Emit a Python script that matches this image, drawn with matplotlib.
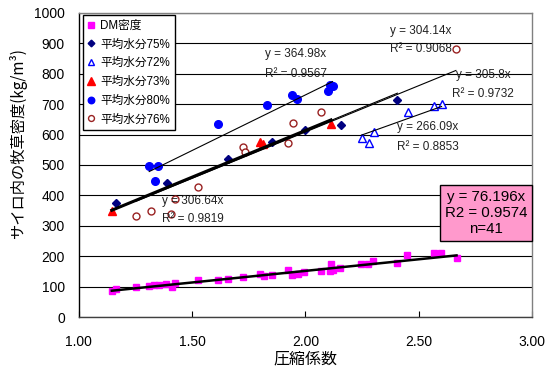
import numpy as np
import matplotlib
matplotlib.use("Agg")
import matplotlib.pyplot as plt

plt.rcParams['font.family'] = ['Liberation Sans', 'Noto Sans CJK JP', 'DejaVu Sans']

# ---- data ----
dm_x = [1.146, 1.165, 1.253, 1.311, 1.332, 1.353, 1.385, 1.410, 1.425, 1.526, 1.616,
        1.657, 1.726, 1.800, 1.819, 1.853, 1.922, 1.942, 1.966, 1.995, 2.067, 2.109,
        2.113, 2.120, 2.153, 2.245, 2.277, 2.300, 2.403, 2.450, 2.567, 2.597, 2.667]
dm_y = [87, 93, 99, 103, 105, 105, 108, 100, 112, 122, 121,
        126, 131, 141, 136, 139, 154, 140, 142, 149, 153, 153,
        174, 154, 161, 175, 175, 186, 177, 205, 210, 210, 195]

m75_x = [1.165, 1.388, 1.657, 1.851, 1.998, 2.156, 2.406]
m75_y = [374, 440, 520, 575, 614, 630, 713]

m72_x = [2.248, 2.281, 2.303, 2.451, 2.569, 2.601]
m72_y = [588, 573, 607, 673, 695, 699]

m73_x = [1.146, 1.800, 1.812, 2.113]
m73_y = [349, 574, 570, 634]

m80_x = [1.311, 1.348, 1.337, 1.616, 1.829, 1.942, 1.964, 2.098, 2.109, 2.120]
m80_y = [497, 497, 448, 633, 698, 729, 718, 744, 762, 760]

m76_x = [1.251, 1.318, 1.406, 1.425, 1.525, 1.726, 1.734, 1.922, 1.947, 2.067, 2.664]
m76_y = [333, 348, 339, 388, 427, 560, 544, 571, 639, 673, 881]

slopes = {'dm': 76.196, 'm75': 305.8, 'm72': 266.09, 'm73': 306.64, 'm80': 364.98, 'm76': 304.14}
r2 = {'m75': '0.9732', 'm72': '0.8853', 'm73': '0.9819', 'm80': '0.9567', 'm76': '0.9068'}

labels = ['DM密度', '平均水分75%', '平均水分72%', '平均水分73%', '平均水分80%', '平均水分76%']
xticks = [1.00, 1.50, 2.00, 2.50, 3.00]
yticks = [0, 100, 200, 300, 400, 500, 600, 700, 800, 900, 1000]

# ---- figure ----
fig = plt.figure(figsize=(5.47, 3.73), dpi=100)
ax = fig.add_axes([0.1439, 0.1493, 0.8287, 0.8167])

ax.plot(dm_x, dm_y, 's', color='#FF00FF', ms=5, label=labels[0], zorder=3)
ax.plot(m75_x, m75_y, 'D', color='#000080', ms=4, label=labels[1], zorder=3)
ax.plot(m72_x, m72_y, '^', mfc='white', mec='#0000FF', mew=1.0, ms=5.5, label=labels[2], zorder=3)
ax.plot(m73_x, m73_y, '^', color='#FF0000', ms=6, label=labels[3], zorder=3)
ax.plot(m80_x, m80_y, 'o', color='#0000FF', ms=5.5, label=labels[4], zorder=3)
ax.plot(m76_x, m76_y, 'o', mfc='white', mec='#992222', mew=1.0, ms=5, label=labels[5], zorder=3)

def trend(xs, k, lw):
    xr = np.array([min(xs), max(xs)])
    ax.plot(xr, k * xr, '-', color='black', lw=lw, zorder=4)

trend(dm_x, slopes['dm'], 1.8)
trend(m73_x, slopes['m73'], 2.2)
trend(m75_x, slopes['m75'], 0.8)
trend(m76_x, slopes['m76'], 0.8)
trend(m80_x, slopes['m80'], 0.8)
trend(m72_x, slopes['m72'], 0.8)

tk = dict(fontsize=8.5, color='#222222', family=['Liberation Sans'], zorder=5)
ax.text(1.823, 864, f"y = {slopes['m80']}x", **tk)
ax.text(1.823, 799, f"R² = {r2['m80']}", **tk)
ax.text(2.374, 941, f"y = {slopes['m76']}x", **tk)
ax.text(2.374, 881, f"R² = {r2['m76']}", **tk)
ax.text(2.663, 795, f"y = {slopes['m75']}x", **tk)
ax.text(2.647, 733, f"R² = {r2['m75']}", **tk)
ax.text(2.405, 624, f"y = {slopes['m72']}x", **tk)
ax.text(2.405, 560, f"R² = {r2['m72']}", **tk)
ax.text(1.366, 382, f"y = {slopes['m73']}x", **tk)
ax.text(1.366, 323, f"R² = {r2['m73']}", **tk)
for t in ax.texts:
    t.set_verticalalignment('center')

ax.text(2.797, 342, f"y = {slopes['dm']}x\nR2 = 0.9574\nn=41", ha='center', va='center',
        fontsize=10.8, linespacing=1.2, zorder=6,
        bbox=dict(boxstyle='square,pad=0.3', facecolor='#FF99CC', edgecolor='black', lw=1))

ax.set_xlim(1, 3)
ax.set_ylim(0, 1000)
ax.set_xticks(xticks)
ax.set_xticklabels([f"{v:.2f}" for v in xticks])
ax.set_yticks(yticks)
ax.tick_params(axis='x', direction='in', length=4, width=0.8, labelsize=10, pad=13)
ax.tick_params(axis='y', length=0, labelsize=10, pad=10)
ax.grid(axis='y', color='black', lw=0.8)

for s in ['top', 'right']:
    ax.spines[s].set_color('#808080')
    ax.spines[s].set_linewidth(1.0)
ax.spines['left'].set_color('black')
ax.spines['bottom'].set_color('#404040')
ax.spines['left'].set_linewidth(1.0)
ax.spines['bottom'].set_linewidth(1.0)

ax.set_xlabel('圧縮係数', fontsize=11.5, family=['Noto Sans CJK JP'])
ax.xaxis.set_label_coords(0.5, -0.11)
ax.set_ylabel('サイロ内の牧草密度(kg/m³)', fontsize=11, family=['Noto Sans CJK JP', 'DejaVu Sans'])
ax.yaxis.set_label_coords(-0.114, 0.572)

leg = ax.legend(loc='upper left', bbox_to_anchor=(0.0088, 0.9925), fontsize=8.4,
                frameon=True, fancybox=False, framealpha=1, edgecolor='black',
                borderaxespad=0, handlelength=0.6, handletextpad=0.5, borderpad=0.4,
                labelspacing=0.58, markerscale=0.85)
leg.get_frame().set_linewidth(1.0)
leg.set_zorder(7)

fig.savefig('out.png', dpi=100)
